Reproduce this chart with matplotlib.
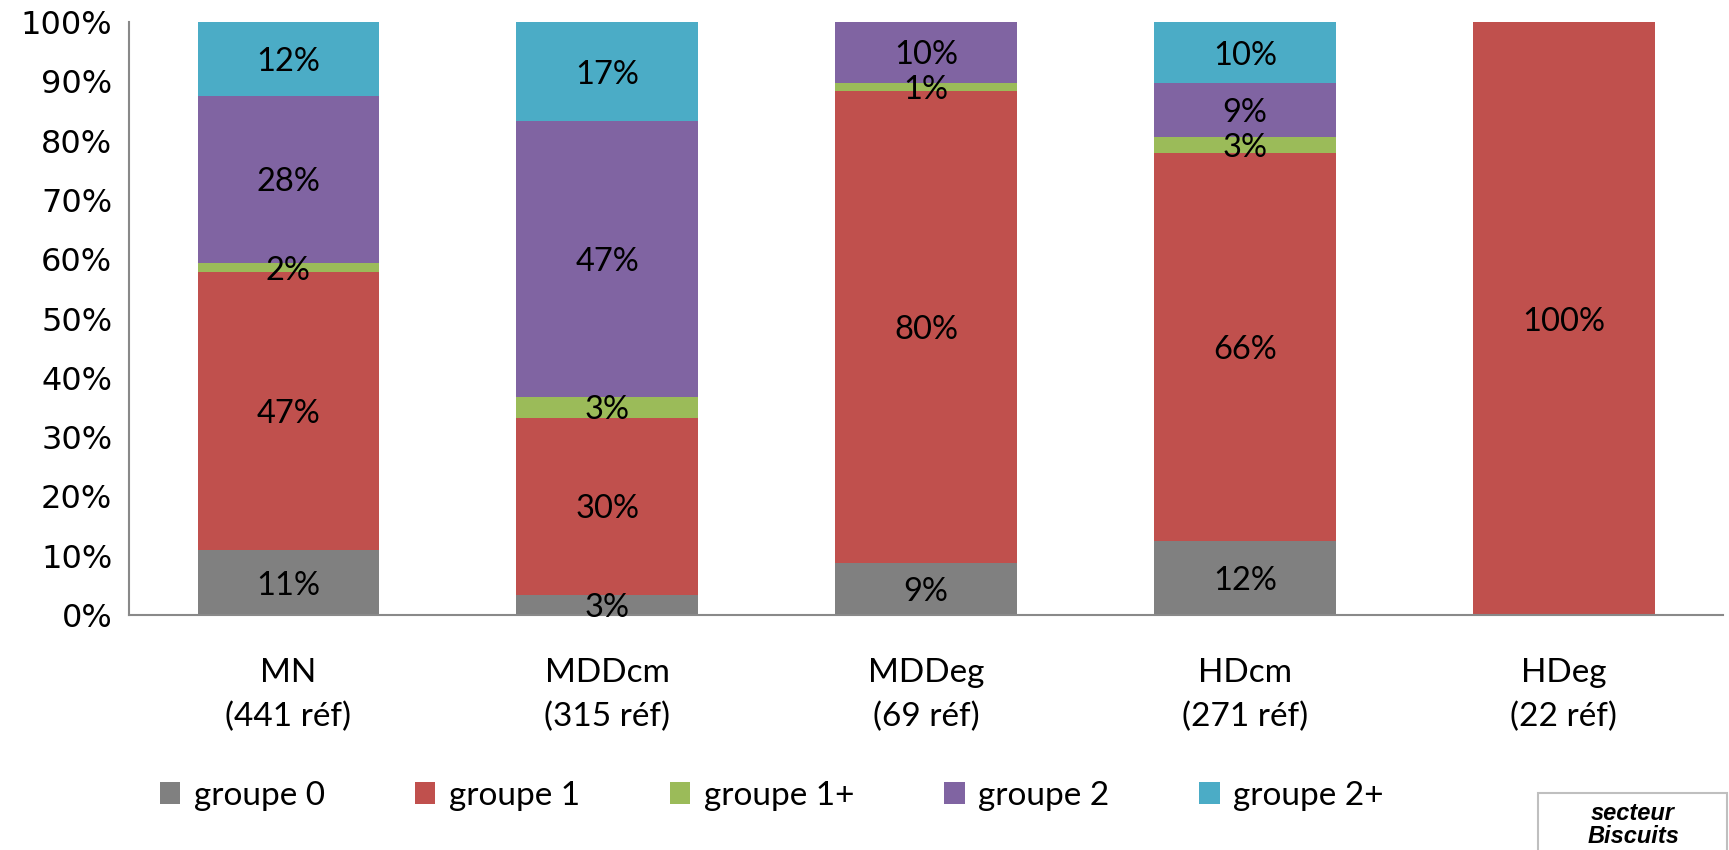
import matplotlib
matplotlib.use("Agg")
import matplotlib.pyplot as plt
import numpy as np
from matplotlib.patches import Rectangle

categories = ["MN\n(441 réf)", "MDDcm\n(315 réf)", "MDDeg\n(69 réf)", "HDcm\n(271 réf)", "HDeg\n(22 réf)"]
series_names = ["groupe 0", "groupe 1", "groupe 1+", "groupe 2", "groupe 2+"]
groupe0 = [10.9, 3.3, 8.7, 12.4, 0]
groupe1 = [46.9, 30.0, 79.7, 65.6, 100]
groupe1p = [1.6, 3.4, 1.4, 2.6, 0]
groupe2 = [28.2, 46.6, 10.2, 9.1, 0]
groupe2p = [12.4, 16.7, 0, 10.3, 0]
colors = ["#808080", "#C0504D", "#9BBB59", "#8064A2", "#4BACC6"]

series = [groupe0, groupe1, groupe1p, groupe2, groupe2p]
lab_font = "Lato"

fig = plt.figure(figsize=(17.29, 8.5), dpi=100)
ax = fig.add_axes([0.0746, 0.2765, 0.922, 0.6975])
x = np.arange(len(categories))
bottom = np.zeros(len(categories))
for name, vals, c in zip(series_names, series, colors):
    v = np.array(vals, dtype=float) / 100.0
    ax.bar(x, v, 0.57, bottom=bottom, color=c, label=name, linewidth=0)
    for xi, vi, bi in zip(x, v, bottom):
        if vi > 0:
            ax.text(xi, bi + vi / 2, f"{vi*100:.0f}%", ha="center", va="center_baseline",
                    fontsize=23.5, family=lab_font, color="black")
    bottom += v

ax.set_xlim(-0.5, 4.5)
ax.set_ylim(0, 1.0)
ticks = np.arange(0, 1.01, 0.1)
ax.set_yticks(ticks)
ax.set_yticklabels([f"{int(round(t*100))}%" for t in ticks], fontsize=23, family="DejaVu Sans")
ax.set_xticks(x)
ax.set_xticklabels(categories, fontsize=24, family=lab_font, linespacing=1.55)
ax.tick_params(axis="both", length=0)
ax.tick_params(axis="x", pad=31)
ax.tick_params(axis="y", pad=12)
for s in ["top", "right"]:
    ax.spines[s].set_visible(False)
for s in ["left", "bottom"]:
    ax.spines[s].set_color("#898989")
    ax.spines[s].set_linewidth(1.5)

leg = fig.legend(loc="center left", bbox_to_anchor=(0.075, 0.064), ncol=5, frameon=False,
                 prop={"family": lab_font, "size": 24}, handlelength=0.62, handleheight=0.62,
                 handletextpad=0.4, columnspacing=2.7)

fig.text(0.9445, 0.0294, "secteur\nBiscuits", ha="center", va="center", fontsize=17,
         family="Liberation Sans", weight="bold", style="italic", linespacing=0.95)
fig.patches.append(Rectangle((1538/1729, -0.01), (1727-1538)/1729, (850-793)/850 + 0.01,
                             transform=fig.transFigure, fill=False, edgecolor="#BFBFBF", linewidth=1.5))

fig.savefig("out.png", dpi=100)
